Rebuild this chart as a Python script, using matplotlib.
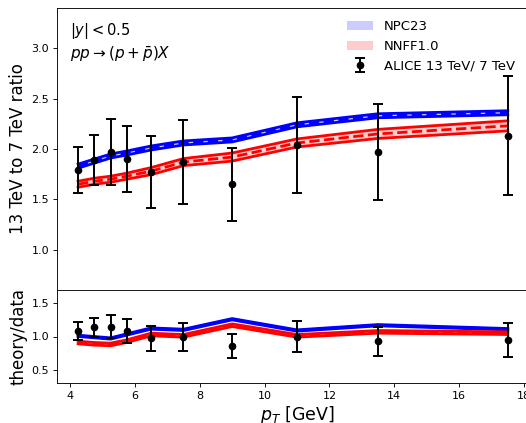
import numpy as np
import matplotlib.pyplot as plt

# pT bins
pt = [4.25, 4.75, 5.25, 5.75, 6.5, 7.5, 9.0, 11.0, 13.5, 17.5]

# ALICE 13/7 ratio
data = [1.79, 1.89, 1.97, 1.90, 1.77, 1.87, 1.65, 2.04, 1.97, 2.13]
data_err = [0.23, 0.25, 0.33, 0.33, 0.36, 0.42, 0.36, 0.48, 0.48, 0.59]

# theory bands (central, half width)
npc_c = [1.83, 1.88, 1.93, 1.96, 2.01, 2.06, 2.09, 2.24, 2.33, 2.36]
npc_w = [0.02, 0.02, 0.02, 0.02, 0.02, 0.02, 0.02, 0.02, 0.02, 0.02]
nnff_c = [1.65, 1.68, 1.70, 1.73, 1.78, 1.87, 1.92, 2.06, 2.15, 2.23]
nnff_w = [0.03, 0.03, 0.03, 0.03, 0.035, 0.035, 0.04, 0.04, 0.045, 0.05]

# lower panel
ratio_data = [1.08, 1.14, 1.15, 1.08, 0.97, 0.99, 0.86, 1.00, 0.93, 0.95]
ratio_err = [0.14, 0.145, 0.175, 0.18, 0.19, 0.215, 0.18, 0.23, 0.22, 0.26]
npc_r = [1.01, 0.99, 0.97, 1.03, 1.12, 1.10, 1.26, 1.09, 1.17, 1.11]
npc_rw = [0.01] * 10
nnff_r = [0.91, 0.89, 0.88, 0.93, 1.03, 1.01, 1.17, 1.01, 1.07, 1.05]
nnff_rw = [0.02] * 10

plt.rcParams['axes.linewidth'] = 0.64
plt.rcParams['xtick.major.size'] = 2.8
plt.rcParams['ytick.major.size'] = 2.8
plt.rcParams['xtick.major.width'] = 0.64
plt.rcParams['ytick.major.width'] = 0.64
plt.rcParams['xtick.major.pad'] = 2.8
plt.rcParams['ytick.major.pad'] = 2.8
plt.rcParams['xtick.labelsize'] = 8
plt.rcParams['ytick.labelsize'] = 8


def band(ax, x, c, w, col):
    c = np.array(c)
    w = np.array(w)
    h = ax.fill_between(x, c - w, c + w, color=col, alpha=0.2, lw=0)
    ax.plot(x, c + w, color=col, lw=2.0)
    ax.plot(x, c - w, color=col, lw=2.0)
    ax.plot(x, c, color=col, lw=2.0, ls='--')
    return h


fig = plt.figure(figsize=(5.26, 4.23), dpi=100)
ax1 = fig.add_axes([57 / 526, 1 - 290 / 423, 480 / 526, 282 / 423])
ax2 = fig.add_axes([57 / 526, 1 - 383 / 423, 480 / 526, 93 / 423])

h1 = band(ax1, pt, npc_c, npc_w, 'blue')
h2 = band(ax1, pt, nnff_c, nnff_w, 'red')
h3 = ax1.errorbar(pt, data, yerr=data_err, fmt='o', color='black', ms=4.5,
                  capsize=3.3, elinewidth=1.4, capthick=1.4)
ax1.legend([h1, h2, h3], ['NPC23', 'NNFF1.0', 'ALICE 13 TeV/ 7 TeV'],
           frameon=False, loc='upper right', bbox_to_anchor=(0.965, 0.975),
           borderaxespad=0, fontsize=9.5)
ax1.text(0.027, 0.955, r'$|y|<0.5$', transform=ax1.transAxes, fontsize=10.5, va='top')
ax1.text(0.027, 0.87, r'$pp\rightarrow(p+\bar{p})X$', transform=ax1.transAxes,
         fontsize=11, va='top')
ax1.set_xlim(3.6, 18.4)
ax1.set_ylim(0.6, 3.4)
ax1.set_yticks([1.0, 1.5, 2.0, 2.5, 3.0])
ax1.tick_params(bottom=False, labelbottom=False)
ax1.set_ylabel('13 TeV to 7 TeV ratio', fontsize=12, labelpad=3.2)

band(ax2, pt, npc_r, npc_rw, 'blue')
band(ax2, pt, nnff_r, nnff_rw, 'red')
ax2.errorbar(pt, ratio_data, yerr=ratio_err, fmt='o', color='black', ms=4.5,
             capsize=3.3, elinewidth=1.4, capthick=1.4)
ax2.set_xlim(3.6, 18.4)
ax2.set_ylim(0.3, 1.7)
ax2.set_yticks([0.5, 1.0, 1.5])
ax2.set_xticks([4, 6, 8, 10, 12, 14, 16, 18])
ax2.set_xlabel(r'$p_T$ [GeV]', fontsize=12.5, labelpad=2)
ax2.set_ylabel('theory/data', fontsize=12, labelpad=3.2)

fig.savefig('out.png', dpi=100)
